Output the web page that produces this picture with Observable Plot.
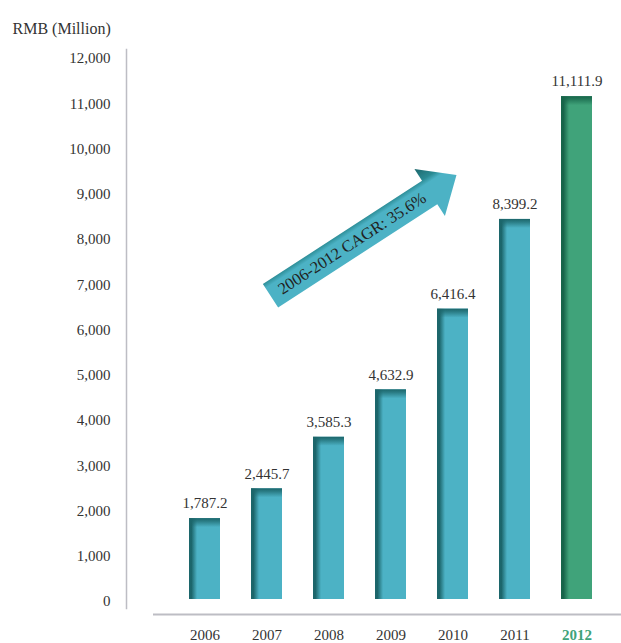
<!DOCTYPE html>
<html><head><meta charset="utf-8">
<script src="https://cdn.jsdelivr.net/npm/d3@7"></script>
<script src="https://cdn.jsdelivr.net/npm/@observablehq/plot@0.6"></script>
<style>body{margin:0;background:#fff} #chart svg{display:block}</style>
</head><body><div id="chart"></div>
<script>
const years = ["2006", "2007", "2008", "2009", "2010", "2011", "2012"];
const values = [1787.2, 2445.7, 3585.3, 4632.9, 6416.4, 8399.2, 11111.9];
const yTicks = [0, 1000, 2000, 3000, 4000, 5000, 6000, 7000, 8000, 9000, 10000, 11000, 12000];
const highlightYear = "2012";
const unitLabel = "RMB (Million)";
const cagrLabel = "2006-2012 CAGR: 35.6%";
const arrowStart = ["2007", 6700];
const arrowEnd = ["2010", 9370];

const teal = "#4cb2c5", tealDark = "#1c666b";
const green = "#40a37a", greenDark = "#17654a";
const textColor = "#333333";
const axisColor = "#bdbdc4";
const font = "'Liberation Serif', 'DejaVu Serif', serif";

const data = years.map((year, i) => ({year, value: values[i], hl: year === highlightYear}));
const fmt = d3.format(",.1f");

function defsMark() {
  const d = d3.create("svg:defs");
  const hGrad = (id, dark, main) => {
    const g = d.append("linearGradient").attr("id", id).attr("x1", 0).attr("y1", 0).attr("x2", 1).attr("y2", 0);
    g.append("stop").attr("offset", "0%").attr("stop-color", dark);
    g.append("stop").attr("offset", "8%").attr("stop-color", dark).attr("stop-opacity", 1);
    g.append("stop").attr("offset", "26%").attr("stop-color", main);
    g.append("stop").attr("offset", "100%").attr("stop-color", main);
  };
  const vGrad = (id, dark) => {
    const g = d.append("linearGradient").attr("id", id).attr("x1", 0).attr("y1", 0).attr("x2", 0).attr("y2", 1);
    g.append("stop").attr("offset", "0%").attr("stop-color", dark).attr("stop-opacity", 1);
    g.append("stop").attr("offset", "35%").attr("stop-color", dark).attr("stop-opacity", 0.7);
    g.append("stop").attr("offset", "100%").attr("stop-color", dark).attr("stop-opacity", 0);
  };
  hGrad("tealH", tealDark, teal);
  hGrad("greenH", greenDark, green);
  vGrad("tealV", tealDark);
  vGrad("greenV", greenDark);
  const a = d.append("linearGradient").attr("id", "arrowGrad").attr("x1", 0).attr("y1", 0).attr("x2", 0).attr("y2", 1);
  a.append("stop").attr("offset", "0%").attr("stop-color", tealDark);
  a.append("stop").attr("offset", "24%").attr("stop-color", "#2a8a93");
  a.append("stop").attr("offset", "34%").attr("stop-color", teal);
  a.append("stop").attr("offset", "100%").attr("stop-color", teal);
  return d.node();
}

function arrowMark(index, scales) {
  const bw = scales.x.bandwidth ? scales.x.bandwidth() : 0;
  const x0 = scales.x(arrowStart[0]) + bw / 2 + 4, y0 = scales.y(arrowStart[1]);
  const x1 = scales.x(arrowEnd[0]) + bw / 2 + 4, y1 = scales.y(arrowEnd[1]);
  const L = Math.hypot(x1 - x0, y1 - y0);
  const ang = Math.atan2(y1 - y0, x1 - x0) * 180 / Math.PI;
  const w = 14, h = 28, hl = 32;
  const g = d3.create("svg:g").attr("transform", `translate(${x0},${y0}) rotate(${ang})`);
  g.append("path")
    .attr("d", `M0,${-w}L${L - hl},${-w}L${L - hl},${-h}L${L},0L${L - hl},${h}L${L - hl},${w}L0,${w}Z`)
    .attr("fill", "url(#arrowGrad)");
  g.append("text")
    .attr("x", (L - hl) / 2 + 2).attr("y", 0).attr("dy", "0.35em")
    .attr("text-anchor", "middle")
    .attr("font-family", font).attr("font-size", 16.5)
    .attr("fill", "#222")
    .text(cagrLabel);
  return g.node();
}

const chart = Plot.plot({
  width: 621,
  height: 643,
  marginTop: 56,
  marginBottom: 44,
  marginLeft: 170,
  marginRight: 10,
  style: {fontFamily: font, fontSize: "15px", color: textColor, background: "#fff"},
  x: {domain: years, paddingInner: 0.5, paddingOuter: 0.3, label: null},
  y: {domain: [0, 12000], label: null},
  marks: [
    defsMark,
    Plot.frame({anchor: "left", dx: -44, insetTop: -7, insetBottom: -9, stroke: axisColor, strokeWidth: 1.5}),
    Plot.ruleY([0], {dy: 15, insetLeft: -17, insetRight: -10, stroke: axisColor, strokeWidth: 2}),
    Plot.axisY(yTicks, {tickSize: 0, tickPadding: 60, dy: 2, tickFormat: d3.format(","), fontSize: 15, fontFamily: font, fill: textColor}),
    Plot.axisX(years.filter(y => y !== highlightYear), {tickSize: 0, tickPadding: 30, fontSize: 15, fontFamily: font, fill: textColor}),
    Plot.axisX([highlightYear], {tickSize: 0, tickPadding: 30, fontSize: 15, fontFamily: font, fill: green, fontWeight: "bold"}),
    Plot.barY(data.filter(d => !d.hl), {x: "year", y: "value", fill: "url(#tealH)"}),
    Plot.barY(data.filter(d => d.hl), {x: "year", y: "value", fill: "url(#greenH)"}),
    Plot.barY(data.filter(d => !d.hl), {x: "year", y1: "value", y2: "value", insetBottom: -9, fill: "url(#tealV)"}),
    Plot.barY(data.filter(d => d.hl), {x: "year", y1: "value", y2: "value", insetBottom: -9, fill: "url(#greenV)"}),
    Plot.text(data, {x: "year", y: "value", text: d => fmt(d.value), dy: -15, fontSize: 15, fontFamily: font, fill: textColor}),
    arrowMark,
    Plot.text([unitLabel], {frameAnchor: "top-left", dx: -158, dy: -34, textAnchor: "start", fontSize: 16, fontFamily: font, fill: textColor})
  ]
});
document.getElementById("chart").append(chart);
</script>
</body></html>
